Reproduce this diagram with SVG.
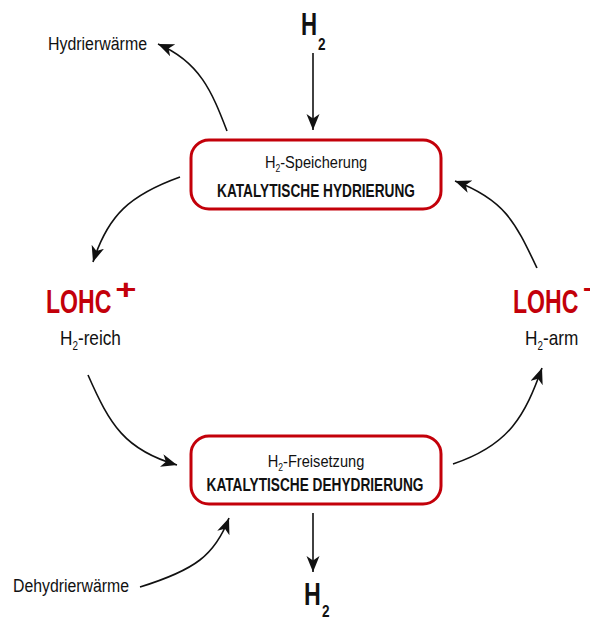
<svg xmlns="http://www.w3.org/2000/svg" width="590" height="619" viewBox="0 0 590 619">
<style>
.box{fill:#fff;stroke:#c3000a;stroke-width:3}
.t{font-family:"Liberation Sans",Arial,sans-serif;fill:#111}
.b{font-family:"Liberation Sans",Arial,sans-serif;font-weight:bold;fill:#111}
.lohc{font-family:"Liberation Sans",Arial,sans-serif;font-weight:bold;fill:#c3000a}
.c{fill:none;stroke:#111;stroke-width:1.6}
</style>
<defs>
<marker id="ah" markerUnits="userSpaceOnUse" markerWidth="18" markerHeight="14" refX="16" refY="6.5" orient="auto" viewBox="0 0 18 14">
<path d="M0,0 L16,6.5 L0,13 L4.5,6.5 z" fill="#111"/>
</marker>
</defs>
<g id="connectors">
<path class="c" d="M313,53 L313,130" marker-end="url(#ah)"/>
<path class="c" d="M313,513 L313,572" marker-end="url(#ah)"/>
<path class="c" d="M227,131 C212,92 200,62 158,44" marker-end="url(#ah)"/>
<path class="c" d="M180,177 C130,195 108,215 93,262" marker-end="url(#ah)"/>
<path class="c" d="M537,268 C515,222 505,200 455,181" marker-end="url(#ah)"/>
<path class="c" d="M88,375 C110,425 125,450 177,465" marker-end="url(#ah)"/>
<path class="c" d="M453,464 C510,445 525,415 542,368" marker-end="url(#ah)"/>
<path class="c" d="M140,587 C195,570 215,555 229,518" marker-end="url(#ah)"/>
</g>
<g id="hydrierung">
<rect class="box" x="191" y="140" width="250" height="69" rx="18"/>
<text class="t" font-size="17" text-anchor="middle" transform="translate(316,168) scale(0.86,1)">H<tspan font-size="10" dy="4">2</tspan><tspan dy="-4">-Speicherung</tspan></text>
<text class="b" font-size="18" text-anchor="middle" transform="translate(316,197) scale(0.76,1)">KATALYTISCHE HYDRIERUNG</text>
</g>
<g id="dehydrierung">
<rect class="box" x="191" y="436" width="250" height="68" rx="18"/>
<text class="t" font-size="17" text-anchor="middle" transform="translate(316,467) scale(0.86,1)">H<tspan font-size="10" dy="4">2</tspan><tspan dy="-4">-Freisetzung</tspan></text>
<text class="b" font-size="18" text-anchor="middle" transform="translate(315,491) scale(0.76,1)">KATALYTISCHE DEHYDRIERUNG</text>
</g>
<g id="h2-in">
<text class="b" font-size="31" transform="translate(301,35) scale(0.72,1)">H</text>
<text class="b" font-size="17" transform="translate(318,50) scale(0.8,1)">2</text>
</g>
<g id="h2-out">
<text class="b" font-size="31" transform="translate(304,605) scale(0.75,1)">H</text>
<text class="b" font-size="17" transform="translate(322,617) scale(0.8,1)">2</text>
</g>
<g id="lohc-plus">
<text class="lohc" font-size="34" transform="translate(46,313) scale(0.68,1)">LOHC</text>
<text class="lohc" font-size="28" font-weight="normal" text-anchor="middle" transform="translate(126,299) scale(1.3,1)">+</text>
<text class="t" font-size="21" transform="translate(60,345) scale(0.82,1)">H<tspan font-size="12" dy="5">2</tspan><tspan dy="-5">-reich</tspan></text>
</g>
<g id="lohc-minus">
<text class="lohc" font-size="34" transform="translate(513,313) scale(0.68,1)">LOHC</text>
<text class="lohc" font-size="28" font-weight="normal" x="583" y="299">−</text>
<text class="t" font-size="21" transform="translate(525,345) scale(0.82,1)">H<tspan font-size="12" dy="5">2</tspan><tspan dy="-5">-arm</tspan></text>
</g>
<g id="hydrierwaerme">
<text class="t" font-size="18" x="48" y="50" textLength="99" lengthAdjust="spacingAndGlyphs">Hydrierwärme</text>
</g>
<g id="dehydrierwaerme">
<text class="t" font-size="18" x="13" y="592" textLength="116" lengthAdjust="spacingAndGlyphs">Dehydrierwärme</text>
</g>
</svg>
